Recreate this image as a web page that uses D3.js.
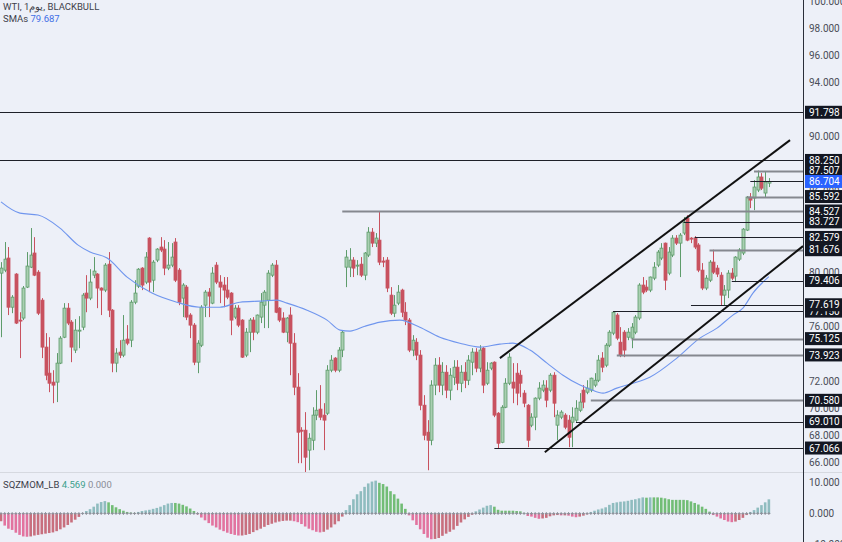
<!DOCTYPE html>
<html><head><meta charset="utf-8">
<script src="https://cdn.jsdelivr.net/npm/d3@7/dist/d3.min.js"></script>
<style>
html,body{margin:0;padding:0;background:#edf0f8;}
svg{display:block;}
text{font-family:Roboto,"Liberation Sans",sans-serif;}
</style></head><body>
<svg id="c" width="842" height="542"></svg>
<script>
// ---------- DATA ----------
const opens = [
79.95,80.17,81.06,77.44,79.88,76.49,76.64,78.92,80.39,81.43,
80.02,77.96,74.50,72.58,71.92,71.92,73.32,75.23,77.37,76.34,
74.28,75.68,75.97,78.48,78.11,79.80,79.88,78.85,78.70,80.61,
77.22,73.32,74.13,73.91,75.09,75.01,77.81,78.99,80.32,79.29,
82.53,79.43,80.91,81.87,81.72,80.32,80.54,82.24,80.17,78.11,
78.92,76.86,76.12,73.39,74.64,77.59,78.55,77.74,80.54,79.29,
79.07,78.70,78.48,76.71,77.37,76.49,73.91,75.60,76.49,75.60,
76.71,77.59,77.96,79.80,80.54,77.37,76.64,75.60,76.86,74.79,
71.55,68.38,68.38,66.91,67.64,69.49,69.93,69.49,69.63,72.80,
73.69,72.80,74.28,80.39,80.39,80.91,80.47,80.61,79.80,81.28,
82.97,82.16,82.38,80.84,80.91,78.33,77.00,77.74,78.70,77.07,
76.49,74.28,74.86,73.91,70.22,68.23,67.64,71.70,73.17,71.70,
72.65,71.33,72.28,73.02,71.84,72.65,72.06,73.39,74.13,72.95,
74.42,71.84,72.95,73.39,69.63,67.49,70.07,71.84,71.92,72.58,
72.43,71.11,70.22,68.75,69.34,70.74,71.33,71.48,71.33,72.43,
68.75,69.34,69.49,69.12,68.97,69.12,69.85,71.33,71.18,71.33,
71.70,72.06,73.69,73.17,74.64,75.53,76.86,74.86,75.60,75.23,
75.16,75.60,76.64,79.07,78.92,78.70,79.58,80.54,81.06,82.16,
79.95,81.28,82.53,82.16,82.90,84.00,82.53,82.53,82.02,80.17,
78.85,79.43,80.76,80.32,79.80,78.33,78.70,79.95,79.73,80.98,
81.43,83.12,85.55,85.48,86.07,87.03,85.85,86.58];
const highs = [
80.76,82.24,81.87,78.33,79.95,77.07,79.00,81.50,83.27,82.60,
80.17,78.11,75.53,75.23,72.80,74.06,75.31,77.74,77.74,76.49,
76.56,76.78,78.48,79.80,80.24,81.13,79.95,78.90,80.69,81.50,
77.30,74.42,75.01,76.86,76.12,77.96,79.43,80.32,80.39,81.50,
82.60,80.91,81.79,82.60,82.38,82.24,82.16,82.53,80.32,79.21,
79.07,77.00,76.27,75.01,77.59,78.70,78.85,80.39,80.76,79.80,
79.66,79.66,78.55,77.59,77.59,76.56,75.90,76.64,76.71,76.90,
78.48,78.70,80.17,80.69,80.91,77.44,77.07,76.71,77.44,75.53,
72.58,68.60,69.71,68.16,70.07,71.33,71.70,70.37,73.17,73.91,
73.76,74.50,75.75,81.65,81.79,81.13,80.91,81.13,81.50,83.34,
83.27,82.90,84.527,81.13,81.13,78.92,78.33,79.07,78.80,77.81,
76.64,75.38,75.16,74.28,70.96,69.12,72.06,73.69,73.76,73.39,
73.17,72.95,73.54,73.54,73.17,73.39,73.91,74.42,74.42,74.64,
74.50,73.39,73.39,73.45,69.71,70.22,72.21,74.06,73.32,73.32,
72.80,71.33,70.30,69.63,70.80,71.92,72.06,72.06,72.58,72.65,
69.85,69.85,69.63,69.49,70.07,70.59,71.11,71.70,72.06,72.25,
72.58,73.91,74.13,74.79,75.75,77.15,77.00,75.97,75.75,75.90,
76.27,76.86,79.21,79.66,79.43,79.70,80.76,81.65,82.16,82.20,
81.87,82.75,82.75,82.90,84.08,84.22,82.60,82.68,82.16,80.69,
79.80,80.91,81.676,80.54,80.02,79.07,80.17,80.32,81.20,81.79,
83.27,85.63,85.85,86.80,87.507,87.32,87.45,86.95];
const lows = [
75.23,80.02,76.86,77.00,76.20,73.69,76.49,78.85,80.32,79.73,
76.86,73.69,72.06,71.18,70.37,70.45,73.25,75.16,76.12,73.39,
74.06,74.42,75.75,77.07,77.96,79.58,77.37,76.86,78.55,76.71,
72.65,72.65,73.69,73.76,74.64,74.50,77.66,78.85,78.70,79.14,
78.55,78.55,80.76,81.50,79.80,80.17,80.39,79.29,77.59,76.71,
76.49,75.16,73.17,72.58,74.50,76.71,76.71,77.66,79.14,77.74,
77.44,78.03,75.38,76.56,75.97,73.70,73.76,74.13,75.01,75.45,
76.27,75.90,75.90,79.66,77.00,76.34,75.53,74.86,72.43,70.96,
65.95,65.95,65.28,65.43,66.91,69.12,69.12,66.91,69.49,72.65,
72.65,72.65,73.76,78.92,79.66,79.66,79.80,79.66,79.43,81.13,
81.87,81.87,80.54,80.39,78.55,76.86,76.71,77.59,76.71,76.12,
74.13,73.83,73.54,69.85,67.64,65.43,67.27,70.96,71.18,70.96,
70.74,70.59,71.70,71.33,71.18,71.48,71.70,72.43,72.65,72.65,
71.11,71.70,72.80,69.34,67.066,67.42,70.00,71.70,70.37,70.22,
70.81,70.07,67.13,68.60,68.38,70.59,71.18,70.07,71.18,69.34,
67.64,69.19,68.45,67.13,67.13,68.97,69.71,70.00,71.03,71.18,
71.55,71.92,72.65,73.02,74.50,75.38,75.01,73.76,73.76,75.01,
74.42,75.45,76.49,78.40,78.55,78.55,79.43,80.39,80.91,78.70,
79.80,81.13,82.02,79.66,82.75,82.30,82.16,81.72,80.02,78.70,
78.70,79.29,79.88,79.66,77.59,77.59,78.11,79.43,79.29,80.84,
81.28,83.05,84.74,84.59,85.92,86.07,85.55,86.29];
const closes = [
80.32,80.98,77.44,78.18,76.27,76.42,78.85,80.47,81.28,79.80,
77.00,74.50,72.43,71.84,71.70,73.32,75.16,77.37,76.27,74.50,
75.75,75.75,78.33,78.11,79.29,80.10,78.85,78.70,80.54,77.22,
73.32,74.06,73.91,75.01,74.79,77.81,78.48,80.24,79.07,81.13,
79.29,80.76,81.72,81.65,80.32,80.54,81.13,79.43,77.81,79.07,
76.71,76.12,73.39,74.79,77.44,78.55,78.26,79.95,79.29,78.92,
78.70,78.18,76.49,77.37,76.12,73.76,75.60,76.49,75.60,76.86,
77.81,78.55,79.95,80.54,77.07,76.49,75.60,76.64,74.79,71.55,
68.23,68.31,66.39,67.79,69.49,69.85,69.34,69.12,72.80,73.54,
72.80,74.28,75.60,81.13,80.91,80.32,80.54,79.80,81.43,82.97,
82.16,82.53,80.76,80.76,78.85,77.00,77.59,78.55,77.07,76.49,
74.28,75.01,73.91,70.22,68.01,67.64,71.70,73.17,71.70,72.65,
71.33,72.43,73.02,71.84,72.65,72.06,73.54,74.13,72.95,74.28,
71.70,72.80,73.32,69.49,67.42,70.07,71.84,73.76,71.48,71.11,
71.84,70.37,67.64,69.34,70.74,71.48,71.70,70.59,72.43,70.37,
69.49,69.71,68.60,67.86,69.34,70.00,70.45,70.45,71.48,72.21,
72.06,73.54,73.02,74.64,75.60,77.07,75.16,73.91,74.28,75.60,
75.97,76.71,79.07,78.55,78.70,79.66,80.39,81.50,81.79,79.43,
81.50,82.53,82.16,82.75,83.71,82.38,82.46,81.87,80.17,78.85,
79.58,80.76,80.02,79.88,78.33,78.70,79.95,79.58,81.13,81.65,
83.19,85.55,85.33,86.29,87.03,86.21,86.66,86.704];

// SMA readings: bar index and value
const smaIdx = [0,5.1,10,15.9,20.8,24,28.6,34,40.7,47.4,53.6,59,64.4,69.8,74.4,77.1,82.5,87.9,91.4,94.1,98.1,102.2,107.5,112.9,118.3,123.7,129.1,134.5,138,142.6,147.2,151.5,156.1,158.8,162.3,166,170.4,174.9,182.2,188.4,193,197.3,200,202.7,207];
const smaVal = [85.20,84.37,84.23,83.27,82.01,81.50,81.06,79.66,78.48,77.81,77.44,77.44,77.81,77.89,77.96,77.74,77.22,76.49,75.75,75.68,76.04,76.34,76.49,75.97,75.23,74.79,74.50,74.72,74.79,74.28,73.32,72.43,71.70,71.40,71.11,71.48,71.84,72.28,73.69,75.16,75.90,76.86,77.37,78.48,79.687];

// Squeeze momentum histogram (one per bar)
const sqz = [
-2.5,-3.9,-4.9,-5.3,-6.2,-6.9,-7.4,-7.5,-7.4,-7.1,
-6.9,-6.7,-6.5,-6.3,-6.1,-5.7,-5.1,-4.5,-3.7,-2.9,
-2.0,-1.1,0.2,0.8,1.4,2.2,3.2,3.7,4.0,3.6,
2.7,2.0,1.4,0.9,0.5,0.3,0.2,0.5,0.8,1.0,
1.2,1.5,1.8,2.2,2.7,3.2,3.4,3.4,3.2,2.8,
2.3,1.6,0.8,-0.3,-1.3,-2.2,-3.1,-3.9,-4.5,-5.2,
-5.7,-6.2,-6.6,-6.9,-7.1,-7.1,-6.9,-6.6,-6.0,-5.4,
-4.9,-4.3,-3.7,-3.3,-2.9,-2.6,-2.4,-2.3,-2.3,-2.5,
-2.8,-3.4,-4.2,-4.9,-5.4,-5.9,-6.1,-5.9,-5.2,-4.5,
-3.5,-2.5,-1.0,1.1,2.7,4.6,6.2,7.2,8.6,9.7,
10.3,10.6,9.9,9.5,8.7,7.2,6.2,4.8,3.2,1.5,
-0.6,-2.2,-3.7,-5.1,-6.6,-7.8,-8.3,-8.2,-7.9,-7.2,
-6.5,-5.9,-5.2,-4.0,-2.9,-1.9,-1.1,-0.4,0.7,1.3,
1.9,2.5,2.7,2.2,1.2,0.9,0.9,0.9,0.9,0.8,
0.7,0.2,-0.8,-1.0,-1.4,-1.7,-1.6,-1.4,-0.9,-0.6,
-0.5,-0.6,-0.6,-0.7,-1.0,-1.2,-1.0,-0.7,-0.3,0.5,
0.9,1.3,1.6,2.0,2.8,3.4,3.6,3.8,3.9,4.1,
4.4,4.6,4.9,5.2,5.1,5.2,5.2,5.2,5.1,4.9,
4.6,4.4,4.4,4.4,4.4,4.3,3.9,3.4,2.9,2.2,
1.5,0.6,-0.5,-1.0,-1.6,-2.1,-2.6,-2.8,-2.6,-2.1,
-1.4,-0.5,0.5,1.1,1.9,2.7,3.6,4.569];

// Horizontal levels (price) and the bar they start from (-1 = full width)
const levelVals = [91.798,88.250,87.507,86.704,85.592,84.527,83.727,82.579,81.676,79.406,77.619,77.150,75.125,73.923,70.580,69.010,67.066];
const levelFrom = [-1,-1,203,202,201,92,184,187,191,197,186,165,170,166,159,155,133];
// Trend lines: [barIndex, price]
const trendUpper = [[134.5,73.69],[212.7,89.75]];
const trendLower = [[146.6,66.76],[216.2,81.94]];
// Axis tick labels
const priceTicks = [66,68,70,72,74,76,78,80,82,84,86,88,90,92,94,96,98,100];
const sqzTicks = [-10,0,10];

// ---------- STYLE ----------
const levelGray = [false,false,true,false,true,true,false,false,true,false,false,false,true,true,true,false,false];
const labelOrder = [11,0,1,2,4,5,6,7,8,9,10,12,13,14,15,16]; // drawing order of level price tags (later on top)
const C = {bg:'#edf0f8', up:'#5e9c6b', upFill:'#a9cfb1', dn:'#c8525f', sma:'#7096ee',
  hPosUp:'#8fbcbf', hPosDn:'#72bd76', hNegDn:'#e2739f', hNegUp:'#c86f7e', axisTxt:'#4a4d57'};

const svg = d3.select('#c');
svg.append('rect').attr('width',842).attr('height',542).attr('fill',C.bg);

const x = d3.scaleLinear().domain([0,216.2]).range([1,803]);
const y = d3.scaleLinear().domain([65.30,100.07]).range([472,0]);
const yh = d3.scaleLinear().domain([-10,10]).range([544.5,482.5]);

svg.append('clipPath').attr('id','pc').append('rect').attr('x',0).attr('y',0).attr('width',803).attr('height',472);
svg.append('clipPath').attr('id','hc').append('rect').attr('x',0).attr('y',473).attr('width',803).attr('height',69);

// pane separator
svg.append('line').attr('x1',0).attr('x2',842).attr('y1',472.5).attr('y2',472.5).attr('stroke','#d6d9e0');

const pg = svg.append('g').attr('clip-path','url(#pc)');
const idx = d3.range(closes.length);

// candles
const cg = pg.append('g');
cg.selectAll('line.w').data(idx).join('line')
  .attr('x1',i=>Math.round(x(i))+0.5).attr('x2',i=>Math.round(x(i))+0.5)
  .attr('y1',i=>y(highs[i])).attr('y2',i=>y(lows[i]))
  .attr('stroke',i=>closes[i]>=opens[i]?C.up:C.dn).attr('stroke-width',1);
cg.selectAll('rect.b').data(idx).join('rect')
  .attr('x',i=>Math.round(x(i))-1).attr('width',3)
  .attr('y',i=>y(Math.max(opens[i],closes[i])))
  .attr('height',i=>Math.max(1,Math.abs(y(opens[i])-y(closes[i]))))
  .attr('fill',i=>closes[i]>=opens[i]?C.upFill:C.dn)
  .attr('stroke',i=>closes[i]>=opens[i]?C.up:C.dn).attr('stroke-width',0.8);

// SMA
pg.append('path').datum(d3.range(smaIdx.length))
  .attr('d',d3.line().x(k=>x(smaIdx[k])).y(k=>y(smaVal[k])).curve(d3.curveMonotoneX))
  .attr('fill','none').attr('stroke',C.sma).attr('stroke-width',1.1);

// levels
pg.selectAll('line.lv').data(d3.range(levelVals.length)).join('line')
  .attr('x1',k=>levelFrom[k]<0?0:x(levelFrom[k])).attr('x2',803)
  .attr('y1',k=>Math.round(y(levelVals[k]))+0.5).attr('y2',k=>Math.round(y(levelVals[k]))+0.5)
  .attr('stroke',k=>levelGray[k]?'#85888f':'#1e2029')
  .attr('stroke-width',k=>levelGray[k]?1.8:1);

// trend lines
[trendUpper,trendLower].forEach(t=>{
  pg.append('line').attr('x1',x(t[0][0])).attr('y1',y(t[0][1])).attr('x2',x(t[1][0])).attr('y2',y(t[1][1]))
    .attr('stroke','#111').attr('stroke-width',2);
});

// histogram
const hg = svg.append('g').attr('clip-path','url(#hc)');
hg.selectAll('rect').data(idx).join('rect')
  .attr('x',i=>x(i)-1.3).attr('width',2.6)
  .attr('y',i=>Math.min(yh(0),yh(sqz[i])))
  .attr('height',i=>Math.abs(yh(sqz[i])-yh(0)))
  .attr('fill',i=>{const v=sqz[i],p=i>0?sqz[i-1]:v;
     return v>=0?(v>p?C.hPosUp:C.hPosDn):(v<p?C.hNegDn:C.hNegUp);});
// squeeze crosses
hg.selectAll('path.cr').data(idx).join('path')
  .attr('d',i=>{const cx=x(i),cy=yh(0);return `M${cx-1.5},${cy}H${cx+1.5}M${cx},${cy-1.5}V${cy+1.5}`;})
  .attr('stroke','#8c8f99').attr('stroke-width',0.9);

// right axis line
svg.append('line').attr('x1',803.5).attr('x2',803.5).attr('y1',0).attr('y2',542).attr('stroke','#2a2e39');

// axis tick labels (ticks hidden behind a price tag are not drawn)
const lastClose = closes[closes.length-1];
const tagVals = levelVals.concat([lastClose]);
const visTicks = priceTicks.filter(t=>tagVals.every(v=>Math.abs(y(t)-y(v))>5.5));
const ax = svg.append('g').attr('transform','translate(803,0)')
  .call(d3.axisRight(y).tickValues(visTicks).tickFormat(d3.format('.3f')).tickSize(0).tickPadding(6));
ax.select('.domain').remove();
ax.selectAll('text').attr('fill',C.axisTxt).style('font-size','10px').style('font-family','Roboto');
const ax2 = svg.append('g').attr('transform','translate(803,0)')
  .call(d3.axisRight(yh).tickValues(sqzTicks).tickFormat(d3.format('.3f')).tickSize(0).tickPadding(6));
ax2.select('.domain').remove();
ax2.selectAll('text').attr('fill',C.axisTxt).style('font-size','10px').style('font-family','Roboto');

// level price tags
const labels = labelOrder.map(k=>({v:levelVals[k],c:'#131722'}));
labels.push({v:lastClose,c:'#2962ff'});
const lg = svg.append('g');
labels.forEach(d=>{
  const yy=y(d.v);
  lg.append('rect').attr('x',805).attr('y',yy-6.5).attr('width',37).attr('height',13).attr('fill',d.c);
  lg.append('text').attr('x',809).attr('y',yy+3.6).attr('fill','#fff').style('font-size','10px')
    .text(d3.format('.3f')(d.v));
});

// legends
const t1 = svg.append('text').attr('x',3).attr('y',10).style('font-size','9.5px').attr('fill','#3d404a');
t1.text('WTI, 1يوم, BLACKBULL');
const t2 = svg.append('text').attr('x',3).attr('y',22).style('font-size','9.5px');
t2.append('tspan').attr('fill','#3d404a').text('SMAs ');
t2.append('tspan').attr('fill','#3f6fe6').text(d3.format('.3f')(smaVal[smaVal.length-1]));
const t3 = svg.append('text').attr('x',3).attr('y',488).style('font-size','9.5px');
t3.append('tspan').attr('fill','#3d404a').text('SQZMOM_LB ');
t3.append('tspan').attr('fill','#3c9f8c').text(' '+d3.format('.3f')(sqz[sqz.length-1]));
t3.append('tspan').attr('fill','#8a8d96').text('  0.000');
</script>
</body></html>
